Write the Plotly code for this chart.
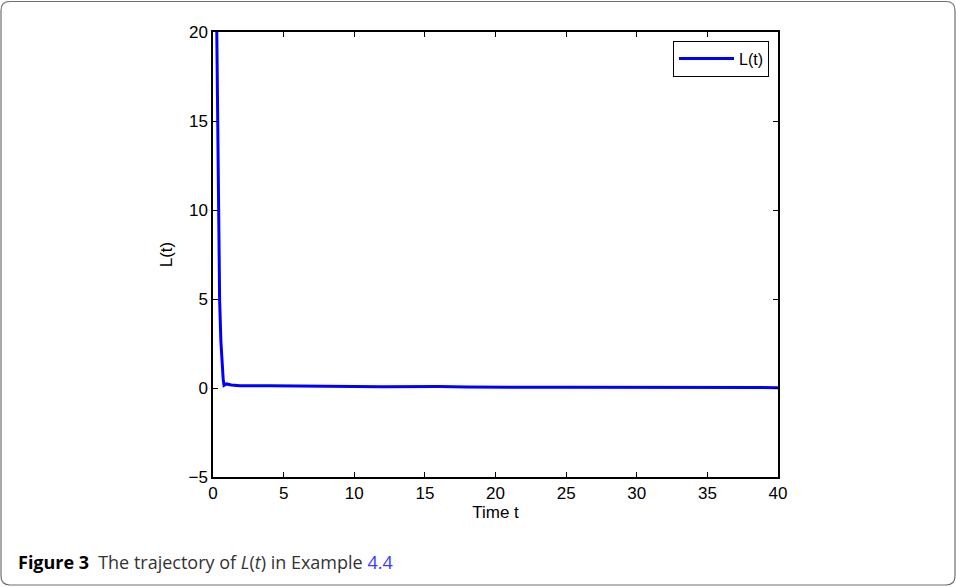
import plotly.graph_objects as go

# Trajectory of L(t)
t_vals = [0.0, 0.12, 0.24, 0.36, 0.47, 0.56, 0.64, 0.72, 0.78, 0.95, 1.3, 1.9,
          4.0, 8.0, 12.0, 16.0, 18.0, 25.0, 30.0, 40.0]
L_vals = [40.0, 30.0, 20.0, 10.5, 4.9, 2.6, 1.2, 0.5, 0.15, 0.23, 0.17, 0.13,
          0.12, 0.09, 0.07, 0.08, 0.05, 0.04, 0.03, 0.02]

x_ticks = [0, 5, 10, 15, 20, 25, 30, 35, 40]
y_ticks = [-5, 0, 5, 10, 15, 20]
y_tick_text = ["\u22125", "0", "5", "10", "15", "20"]

W, H = 956, 587
L_M, R_M, T_M, B_M = 213, 178, 32, 110
pw, ph = W - L_M - R_M, H - T_M - B_M


def px(x):
    return (x - L_M) / pw


def py(y):
    return (H - B_M - y) / ph


fig = go.Figure()
fig.add_trace(go.Scatter(
    x=t_vals, y=L_vals, mode="lines", name="L(t)",
    line=dict(color="#0000ff", width=3),
))

axis_font = dict(family="Liberation Sans, Arial, sans-serif", size=17, color="#000")

fig.update_layout(
    width=W, height=H,
    margin=dict(l=L_M, r=R_M, t=T_M, b=B_M),
    paper_bgcolor="white", plot_bgcolor="white",
    font=axis_font,
    showlegend=True,
    legend=dict(
        x=px(769), y=py(40.5), xanchor="right", yanchor="top",
        bgcolor="white", bordercolor="black", borderwidth=1,
        font=dict(family="Liberation Sans, Arial, sans-serif", size=16, color="#000"),
        itemwidth=55, tracegroupgap=0,
    ),
    xaxis=dict(
        range=[0, 40], tickvals=x_ticks, ticks="inside", ticklen=5,
        tickcolor="black", showline=True, linecolor="black", linewidth=1.5,
        mirror="ticks", showgrid=False, zeroline=False,
        title=dict(text="Time t", font=axis_font, standoff=2),
        tickfont=axis_font,
    ),
    yaxis=dict(
        range=[-5, 20], tickvals=y_ticks, ticktext=y_tick_text, ticks="inside",
        ticklen=5, tickcolor="black", showline=True, linecolor="black",
        linewidth=1.5, mirror="ticks", showgrid=False, zeroline=False,
        title=dict(text="L(t)", font=axis_font, standoff=12),
        tickfont=axis_font,
    ),
)

# Rounded frame around the figure and its caption
x0, x1, y0, y1 = 1.0, 955.0, 1.5, 585.0
r = 9.0
frame_path = (
    f"M {px(x0 + r)},{py(y0)} L {px(x1 - r)},{py(y0)} "
    f"Q {px(x1)},{py(y0)} {px(x1)},{py(y0 + r)} "
    f"L {px(x1)},{py(y1 - r)} Q {px(x1)},{py(y1)} {px(x1 - r)},{py(y1)} "
    f"L {px(x0 + r)},{py(y1)} Q {px(x0)},{py(y1)} {px(x0)},{py(y1 - r)} "
    f"L {px(x0)},{py(y0 + r)} Q {px(x0)},{py(y0)} {px(x0 + r)},{py(y0)} Z"
)
fig.add_shape(type="path", path=frame_path, xref="paper", yref="paper",
              line=dict(color="#6e6e6e", width=1.2), layer="below")

fig.add_annotation(
    x=px(16), y=py(562), xref="paper", yref="paper",
    xanchor="left", yanchor="middle", showarrow=False,
    text=("<span style='color:#000'><b>Figure 3</b></span>\u2002The trajectory of "
          "<i>L</i>(<i>t</i>) in Example "
          "<span style='color:#3a3aff'>4.4</span>"),
    font=dict(family="Open Sans, Noto Sans, sans-serif", size=18, color="#333"),
)

fig.write_html("out.html")
